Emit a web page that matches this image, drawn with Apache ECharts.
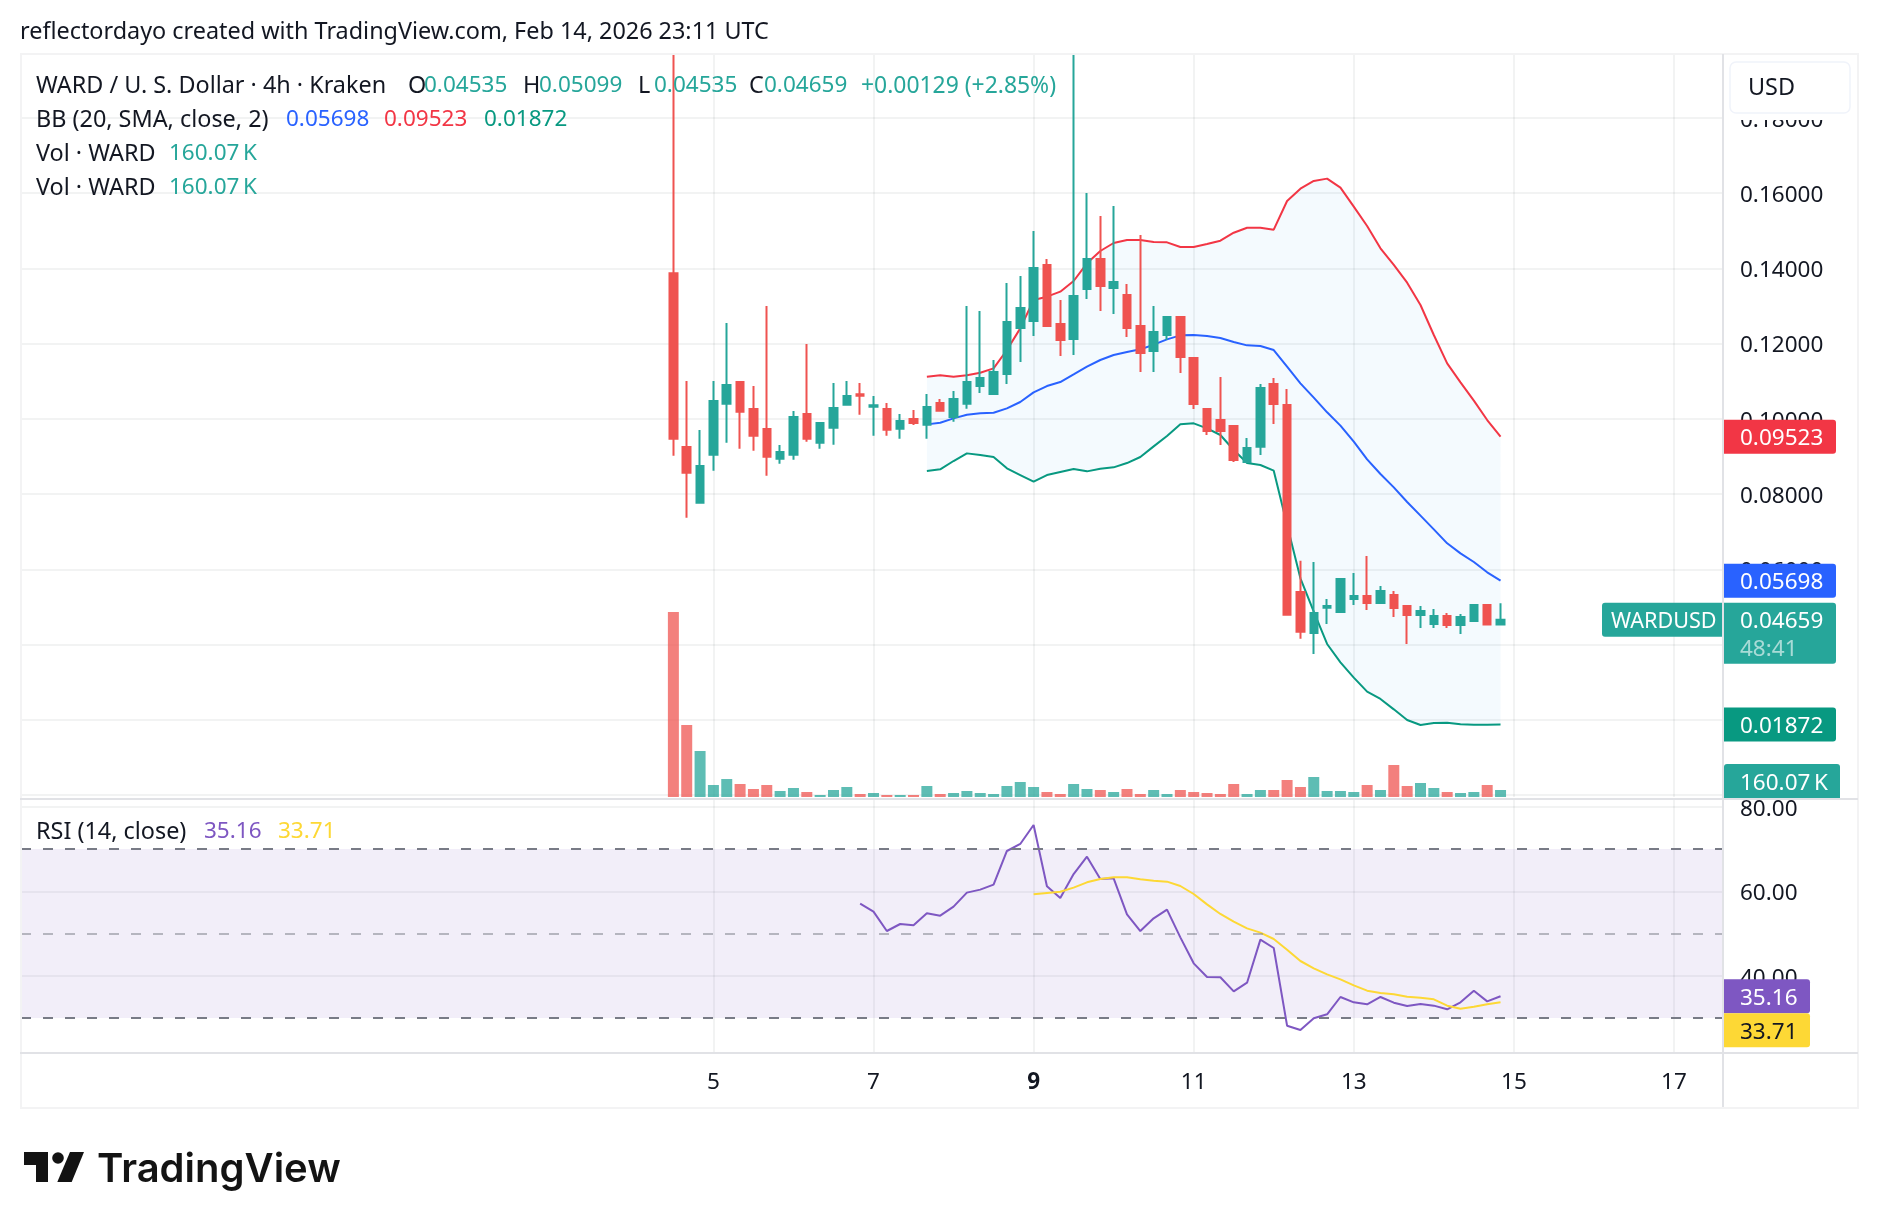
<!DOCTYPE html>
<html>
<head>
<meta charset="utf-8">
<title>WARDUSD 4h</title>
<style>html,body{margin:0;padding:0;background:#fff}#chart{width:1878px;height:1228px}</style>
<script src="https://cdn.jsdelivr.net/npm/echarts@6/dist/echarts.min.js"></script>
</head>
<body>
<div id="chart"></div>
<script>
// 4h OHLC bars, oldest first; the first bar opens on Feb 4 at 12:00 UTC.
const opens = [.13866,.09250,.07770,.09046,.10402,.10978,.10260,.09728,.08940,.09046,.10127,.09365,.09764,.10375,.10650,.10322,.10260,.09737,.09994,.09843,.10419,.10047,.10402,.10871,.10659,.11190,.12413,.12599,.14088,.12520,.12121,.13450,.14247,.13477,.13290,.12466,.11802,.12227,.12706,.11616,.10260,.09968,.09808,.08851,.09259,.10925,.10366,.05395,.04306,.04980,.04865,.05210,.05290,.05104,.05317,.05024,.04785,.04546,.04758,.04519,.04625,.05051,.04535];
const closes = [.09471,.08567,.08745,.10472,.10898,.10189,.09551,.08993,.09117,.10047,.09471,.09888,.10286,.10605,.10614,.10357,.09710,.09941,.09888,.10313,.10216,.10526,.10978,.11084,.11244,.12573,.12945,.14008,.12466,.12094,.13264,.14247,.13530,.13636,.12413,.11749,.12307,.12706,.11642,.10393,.09675,.09675,.08904,.09223,.10818,.10393,.04793,.04341,.04838,.05024,.05742,.05290,.05104,.05423,.04971,.04785,.04891,.04758,.04519,.04732,.05051,.04530,.04659];
const lows = [.09019,.07371,.07770,.08621,.09365,.09205,.09152,.08488,.08807,.08913,.09391,.09205,.09312,.10375,.10109,.09551,.09551,.09471,.09835,.09471,.10216,.09923,.10269,.10685,.10659,.10925,.11509,.12201,.12466,.11669,.11695,.13184,.12865,.12785,.12174,.11244,.11244,.12094,.11217,.10260,.09569,.09303,.08851,.08851,.09037,.09861,.04793,.04155,.03748,.04546,.04838,.05051,.04918,.05077,.04732,.04014,.04439,.04439,.04439,.04280,.04599,.04519,.04535];
const highs = [.1968,.11004,.09702,.11004,.12546,.10978,.10871,.12998,.09303,.10207,.11988,.09888,.10951,.11004,.10951,.10605,.10419,.10127,.10233,.10659,.10526,.10738,.12998,.12865,.11563,.13609,.13796,.14992,.14247,.13158,.1968,.16002,.15391,.15656,.13583,.14885,.12998,.12706,.12732,.11616,.10260,.11111,.09808,.09489,.10925,.11084,.10792,.06228,.06194,.05210,.05742,.05901,.06353,.05556,.05423,.05024,.05024,.04944,.04838,.04812,.05051,.05051,.05099];

// Volume per bar, in thousands of WARD.
const volumes = [4229,1646,1052,274,411,297,183,274,137,206,114,46,160,229,69,91,46,46,46,251,69,91,137,91,69,251,343,229,114,69,297,183,160,114,183,69,160,69,160,114,91,69,297,69,160,160,389,229,457,137,137,114,274,160,732,251,320,206,114,91,114,274,160.07];

// Bollinger Bands (20, SMA, close, 2), from bar 19 onward.
const bbFirstBar = 19;
const bbUpper = [.11119,.11155,.11119,.11155,.11226,.11341,.11828,.12404,.13158,.13246,.13379,.13663,.14132,.14460,.14673,.14753,.14753,.14699,.14690,.14566,.14566,.14646,.14735,.14947,.15080,.15080,.15027,.15790,.16118,.16322,.16384,.16144,.15639,.15125,.14532,.14089,.13619,.13025,.12228,.11475,.10970,.10482,.09968,.09523];
const bbBasis = [.09852,.09897,.10012,.10109,.10145,.10162,.10278,.10446,.10703,.10871,.10978,.11181,.11385,.11563,.11695,.11775,.11846,.11970,.12112,.12218,.12227,.12201,.12147,.12041,.11952,.11935,.11828,.11385,.10943,.10562,.10172,.09818,.09392,.08923,.08533,.08178,.07788,.07425,.07062,.06690,.06424,.06193,.05919,.05698];
const bbLower = [.08612,.08656,.08878,.09081,.09037,.08984,.08683,.08505,.08328,.08505,.08585,.08665,.08603,.08674,.08709,.08824,.08984,.09267,.09542,.09852,.09879,.09746,.09569,.09170,.08824,.08771,.08621,.07176,.05759,.04874,.04014,.03527,.03119,.02747,.02552,.02277,.01994,.01861,.01914,.01923,.01879,.01870,.01870,.01872];

// RSI (14, close) and its moving average.
const rsiFirstBar = 14;
const rsiValues = [57.06,55.17,50.59,52.25,51.93,54.77,54.22,56.35,59.67,60.38,61.56,69.53,71.19,75.68,61.17,58.40,64.08,68.19,62.90,63.06,54.54,50.59,53.59,55.64,49.09,42.94,39.70,39.63,36.31,38.36,48.54,46.57,28.18,27.16,29.92,30.87,34.97,33.71,33.23,34.97,33.63,32.84,33.31,32.92,32.05,33.71,36.47,33.94,35.16];
const rsiMaFirstBar = 27;
const rsiMa = [59.27,59.59,59.90,60.85,62.11,62.90,63.30,63.30,62.82,62.51,62.27,61.24,59.35,56.90,54.62,52.80,51.22,50.20,48.70,46.17,43.49,41.76,40.33,39.15,37.73,36.47,35.92,35.60,35.05,34.81,34.42,32.92,32.21,32.68,33.23,33.71];

// Tick positions and readouts.
const dayTicks = [5, 7, 9, 11, 13, 15, 17];
const priceGridTicks = [0, .02, .04, .06, .08, .10, .12, .14, .16, .18];
const priceLabelTicks = [.02, .04, .06, .08, .10, .12, .14, .16, .18];
const rsiTicks = [40, 60, 80];
const lastClose = .04659, lastOpen = .04535, lastHigh = .05099, lastLow = .04535;
const lastUpper = .09523, lastBasis = .05698, lastLower = .01872;
const lastVolume = '160.07\u2009K', lastRsi = 35.16, lastRsiMa = 33.71;

const UP = '#26a69a', DOWN = '#ef5350', INK = '#131722', FRAME = '#e1e2e6', EDGE = '#f3f3f4';
const FONT = '"Noto Sans", sans-serif';
const NUM_SIZE = 22.5, WORD_SIZE = 23.4;
const GRID_LINE = { show: true, lineStyle: { color: 'rgba(42,46,57,0.06)', width: 2 } };
// Scale labels sit a little under their gridline.
const SCALE_TEXT = { fontFamily: FONT, fontSize: NUM_SIZE, color: INK, padding: [5, 0, 0, 0] };

// Bars sit on a day-of-month scale, six bars to the day.
const barDays = opens.map((_, i) => 4.5 + i / 6);
const fromBar = (first, values) => values.map((v, i) => [barDays[first + i], v]);
const dayExtent = { min: -3.65, max: 17.6125 };

const plainLine = (name, first, values, color, axes) => Object.assign({
  name, type: 'line', data: fromBar(first, values), symbol: 'none', silent: true,
  lineStyle: { color, width: 2 }, z: 3
}, axes);

const chart = echarts.init(document.getElementById('chart'), null, { renderer: 'canvas' });

chart.setOption({
  animation: false,
  backgroundColor: '#fff',
  grid: [
    { left: 21, right: 155, top: 54, height: 741 },
    { left: 21, right: 155, top: 54, height: 743 },
    { left: 21, right: 155, top: 800, height: 252 }
  ],
  xAxis: [
    Object.assign({ type: 'value', gridIndex: 0, show: false, splitLine: { show: false } }, dayExtent),
    Object.assign({
      type: 'value', gridIndex: 1, axisLine: { show: false },
      axisTick: { show: false, customValues: dayTicks },
      axisLabel: { show: false, customValues: dayTicks },
      splitLine: GRID_LINE
    }, dayExtent),
    Object.assign({
      type: 'value', gridIndex: 2, axisLine: { show: false },
      axisTick: { show: false, customValues: dayTicks },
      axisLabel: {
        customValues: dayTicks, margin: 19, fontFamily: FONT, fontSize: NUM_SIZE, color: INK,
        formatter: v => v === 9 ? '{monday|9}' : String(v),
        rich: { monday: { fontFamily: FONT, fontSize: NUM_SIZE, fontWeight: 'bold', color: INK } }
      },
      splitLine: GRID_LINE
    }, dayExtent)
  ],
  yAxis: [
    {
      type: 'value', gridIndex: 0, position: 'right', min: 0, max: .19697, axisLine: { show: false },
      axisTick: { show: false, customValues: priceGridTicks },
      axisLabel: {
        customValues: priceLabelTicks, margin: 17,
        formatter: v => '{t|' + v.toFixed(5) + '}', rich: { t: SCALE_TEXT }
      },
      splitLine: GRID_LINE
    },
    { type: 'value', gridIndex: 1, min: 0, max: 16992, show: false, splitLine: { show: false } },
    {
      type: 'value', gridIndex: 2, position: 'right', min: 21.95, max: 81.6, axisLine: { show: false },
      axisTick: { show: false, customValues: rsiTicks },
      axisLabel: {
        customValues: rsiTicks, margin: 17,
        formatter: v => '{t|' + v.toFixed(2) + '}', rich: { t: SCALE_TEXT }
      },
      splitLine: GRID_LINE
    }
  ],
  series: [
    {
      name: 'Vol', type: 'bar', xAxisIndex: 1, yAxisIndex: 1, barWidth: 11, silent: true, z: 1,
      data: volumes.map((v, i) => ({
        value: [barDays[i], v],
        itemStyle: { color: closes[i] >= opens[i] ? 'rgba(38,166,154,0.74)' : 'rgba(239,83,80,0.74)' }
      }))
    },
    {
      // Shaded channel between the outer bands, one polygon over the whole run.
      name: 'BB fill', type: 'custom', xAxisIndex: 0, yAxisIndex: 0, silent: true, z: 2,
      data: bbUpper.map((u, i) => [barDays[bbFirstBar + i], u, bbLower[i]]),
      encode: { x: 0, y: [1, 2] },
      renderItem: (params, api) => {
        if (params.dataIndex !== 0) return null;
        const top = bbUpper.map((u, i) => api.coord([barDays[bbFirstBar + i], u]));
        const bottom = bbLower.map((l, i) => api.coord([barDays[bbFirstBar + i], l])).reverse();
        return { type: 'polygon', shape: { points: top.concat(bottom) }, style: { fill: 'rgba(33,150,243,0.05)' } };
      }
    },
    plainLine('BB upper', bbFirstBar, bbUpper, '#f23645', { xAxisIndex: 0, yAxisIndex: 0 }),
    plainLine('BB basis', bbFirstBar, bbBasis, '#2962ff', { xAxisIndex: 0, yAxisIndex: 0 }),
    plainLine('BB lower', bbFirstBar, bbLower, '#089981', { xAxisIndex: 0, yAxisIndex: 0 }),
    {
      name: 'WARD / U. S. Dollar', type: 'candlestick', xAxisIndex: 0, yAxisIndex: 0, barWidth: 8, silent: true, z: 4,
      data: opens.map((o, i) => [barDays[i], o, closes[i], lows[i], highs[i]]),
      itemStyle: { color: UP, color0: DOWN, borderColor: UP, borderColor0: DOWN, borderWidth: 2 }
    },
    {
      name: 'RSI', type: 'line', xAxisIndex: 2, yAxisIndex: 2, symbol: 'none', silent: true, z: 3,
      data: fromBar(rsiFirstBar, rsiValues), lineStyle: { color: '#7e57c2', width: 2 },
      markArea: {
        silent: true, itemStyle: { color: 'rgba(126,87,194,0.1)' },
        data: [[{ yAxis: 70 }, { yAxis: 30 }]]
      },
      markLine: {
        silent: true, symbol: 'none', label: { show: false },
        data: [
          { yAxis: 70, lineStyle: { color: '#787b86', type: [10, 12], width: 2 } },
          { yAxis: 50, lineStyle: { color: 'rgba(120,123,134,0.5)', type: [10, 12], width: 2 } },
          { yAxis: 30, lineStyle: { color: '#787b86', type: [10, 12], width: 2 } }
        ]
      }
    },
    plainLine('RSI MA', rsiMaFirstBar, rsiMa, '#fdd835', { xAxisIndex: 2, yAxisIndex: 2 })
  ]
});

// Page furniture and the readouts pinned to the price scales.
const priceY = v => chart.convertToPixel({ yAxisIndex: 0 }, v);
const rsiY = v => chart.convertToPixel({ yAxisIndex: 2 }, v);

const num = (text, x, y, fill, z, size) => ({
  type: 'text', z: z || 120, silent: true,
  style: { text, x, y, fill, font: (size || NUM_SIZE) + 'px ' + FONT, verticalAlign: 'middle' }
});
const word = (text, x, y, fill) => ({
  type: 'text', z: 120, silent: true,
  style: { text, x, y, fill, font: WORD_SIZE + 'px ' + FONT, verticalAlign: 'middle' }
});
const rule = (x, y, w, h, fill, z) => ({
  type: 'rect', silent: true, z: z || 100, shape: { x, y, width: w, height: h }, style: { fill }
});
const tag = (text, centerY, width, fill, textFill) => [
  {
    type: 'rect', silent: true, z: 110,
    shape: { x: 1724, y: centerY - 17, width, height: 34, r: [0, 3, 3, 0] }, style: { fill }
  },
  num(text, 1740, centerY + 2, textFill || '#fff')
];

const closeY = priceY(lastClose);
const rsiTagY = rsiY(lastRsi);

const graphics = [
  // Frame and pane dividers
  rule(20, 53, 1838, 2, EDGE), rule(20, 53, 2, 1055, EDGE), rule(1857, 53, 2, 1055, EDGE), rule(20, 1107, 1839, 2, EDGE),
  rule(20, 798, 1838, 2, FRAME, 125), rule(20, 1052, 1838, 2, FRAME), rule(1722, 54, 2, 1053, FRAME),
  // Header
  word('reflectordayo created with TradingView.com, Feb 14, 2026 23:11 UTC', 20, 32, INK),
  word('WARD / U. S. Dollar · 4h · Kraken', 36, 86, INK),
  word('O', 408, 86, INK), num(lastOpen.toFixed(5), 424, 86, UP),
  word('H', 523, 86, INK), num(lastHigh.toFixed(5), 539, 86, UP),
  word('L', 638, 86, INK), num(lastLow.toFixed(5), 654, 86, UP),
  word('C', 749, 86, INK), num(lastClose.toFixed(5), 764, 86, UP),
  num('+0.00129 (+2.85%)', 861, 86, UP, 120, 22.9),
  word('BB (20, SMA, close, 2)', 36, 120, INK),
  num(lastBasis.toFixed(5), 286, 120, '#2962ff'),
  num(lastUpper.toFixed(5), 384, 120, '#f23645'),
  num(lastLower.toFixed(5), 484, 120, '#089981'),
  word('Vol · WARD', 36, 154, INK), num(lastVolume, 169, 154, UP),
  word('Vol · WARD', 36, 188, INK), num(lastVolume, 169, 188, UP),
  word('RSI (14, close)', 36, 832, INK),
  num(lastRsi.toFixed(2), 204, 832, '#7e57c2'), num(lastRsiMa.toFixed(2), 278, 832, '#fdd835'),
  // Currency button with its white backing strip
  rule(1726, 55, 130, 65, '#fff', 108),
  {
    type: 'rect', silent: true, z: 110, shape: { x: 1730, y: 62, width: 120, height: 51, r: 6 },
    style: { fill: '#fff', stroke: '#f0f3fa', lineWidth: 1.5 }
  },
  word('USD', 1748, 88, INK),
  // Price scale tags
  ...tag(lastUpper.toFixed(5), priceY(lastUpper), 112, '#f23645'),
  ...tag(lastBasis.toFixed(5), priceY(lastBasis), 112, '#2962ff'),
  ...tag(lastLower.toFixed(5), priceY(lastLower), 112, '#089981'),
  {
    type: 'rect', silent: true, z: 111,
    shape: { x: 1724, y: closeY - 17, width: 112, height: 61, r: [0, 3, 3, 0] }, style: { fill: UP }
  },
  num(lastClose.toFixed(5), 1740, closeY + 2, '#fff'),
  num('48:41', 1740, closeY + 30, 'rgba(255,255,255,0.6)'),
  {
    type: 'rect', silent: true, z: 111,
    shape: { x: 1602, y: closeY - 17, width: 120, height: 34, r: [3, 0, 0, 3] }, style: { fill: UP }
  },
  num('WARDUSD', 1611, closeY + 2, '#fff', 120, 21.6),
  {
    type: 'rect', silent: true, z: 124,
    shape: { x: 1724, y: 764, width: 116, height: 34, r: [3, 3, 0, 0] }, style: { fill: UP }
  },
  num(lastVolume, 1740, 784, '#fff', 126),
  // RSI scale tags
  ...tag(lastRsi.toFixed(2), rsiTagY, 86, '#7e57c2'),
  ...tag(lastRsiMa.toFixed(2), rsiTagY + 34, 86, '#fdd835', INK),
  // Wordmark
  {
    type: 'polygon', silent: true, z: 120,
    shape: { points: [[24, 1152], [48, 1152], [48, 1182], [36, 1182], [36, 1165], [24, 1165]] },
    style: { fill: '#131313' }
  },
  {
    type: 'polygon', silent: true, z: 120,
    shape: { points: [[70, 1152], [84, 1152], [71.7, 1182], [57.3, 1182]] },
    style: { fill: '#131313' }
  },
  { type: 'circle', silent: true, z: 120, shape: { cx: 58, cy: 1158, r: 5.8 }, style: { fill: '#131313' } },
  {
    type: 'text', silent: true, z: 120,
    style: { text: 'TradingView', x: 97, y: 1170, fill: '#131313', font: '600 40px Inter, sans-serif', verticalAlign: 'middle' }
  }
];

chart.setOption({ graphic: graphics });
</script>
</body>
</html>
